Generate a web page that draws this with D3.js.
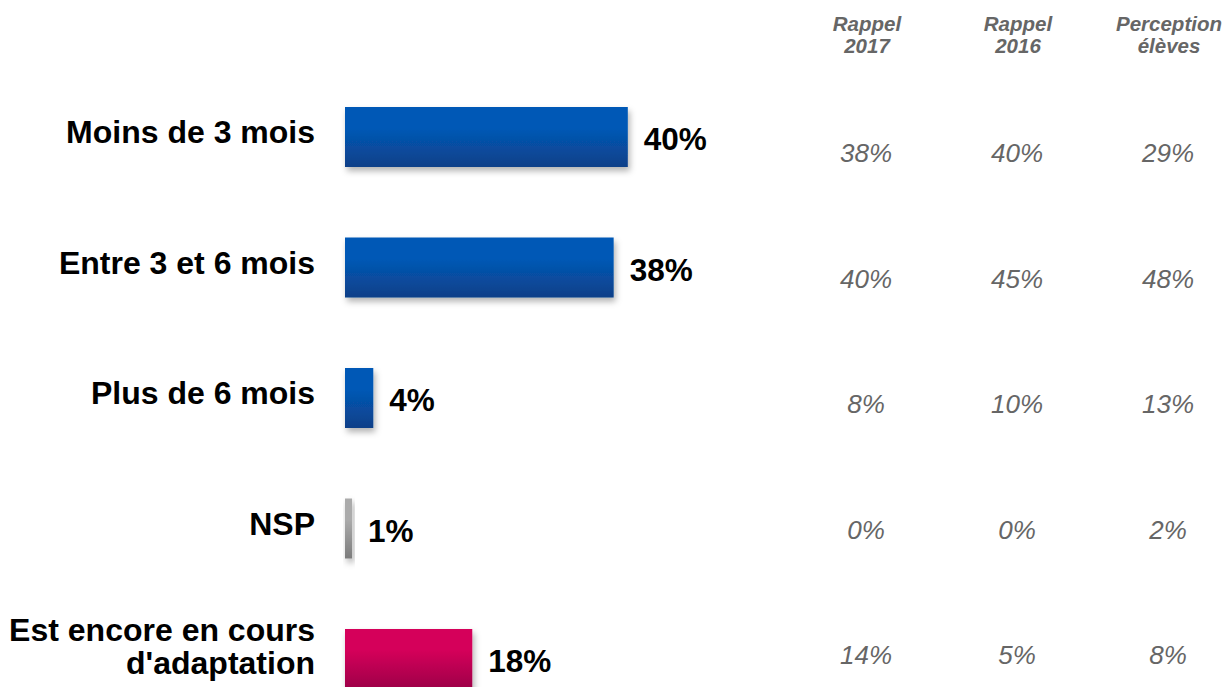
<!DOCTYPE html>
<html>
<head>
<meta charset="utf-8">
<script src="https://cdn.jsdelivr.net/npm/d3@7"></script>
<style>
  html, body { margin: 0; padding: 0; background: #fff; }
  svg { display: block; font-family: "Liberation Sans", Arial, sans-serif; }
</style>
</head>
<body>
<svg id="chart" width="1229" height="687"></svg>
<script>
// Délai d'adaptation : répartition principale + rappels des vagues précédentes
const categories = [
  "Moins de 3 mois",
  "Entre 3 et 6 mois",
  "Plus de 6 mois",
  "NSP",
  "Est encore en cours\nd'adaptation"
];
const values = [40, 38, 4, 1, 18];
const barGroup = ["main", "main", "main", "nsp", "ongoing"];

const columnHeaders = ["Rappel\n2017", "Rappel\n2016", "Perception\nélèves"];
const rappel2017 = [38, 40, 8, 0, 14];
const rappel2016 = [40, 45, 10, 0, 5];
const perceptionEleves = [29, 48, 13, 2, 8];

const svg = d3.select("#chart");
const defs = svg.append("defs");

// vertical gradients per bar group
const gradients = {
  main:    ["#0459b6", "#0a3f88"],
  nsp:     ["#ababab", "#7c7c7c"],
  ongoing: ["#d5005a", "#9d0048"]
};
Object.entries(gradients).forEach(([key, [top, bottom]]) => {
  const g = defs.append("linearGradient")
    .attr("id", "grad-" + key)
    .attr("x1", 0).attr("y1", 0).attr("x2", 0).attr("y2", 1);
  g.append("stop").attr("offset", "0%").attr("stop-color", top);
  g.append("stop").attr("offset", "35%").attr("stop-color", top);
  g.append("stop").attr("offset", "100%").attr("stop-color", bottom);
});

const shadow = defs.append("filter").attr("id", "barShadow")
  .attr("x", "-20%").attr("y", "-20%").attr("width", "160%").attr("height", "160%");
shadow.append("feDropShadow")
  .attr("dx", 2).attr("dy", 4).attr("stdDeviation", 3)
  .attr("flood-color", "#000").attr("flood-opacity", 0.3);

// scales
const x = d3.scaleLinear().domain([0, 100]).range([345, 1052]);
const y = d3.scalePoint().domain(categories).range([137, 659]);
const barH = 60;

const rows = categories.map((c, i) => ({
  cat: c, value: values[i], group: barGroup[i]
}));

// bars
svg.append("g").selectAll("rect")
  .data(rows)
  .join("rect")
  .attr("x", x(0))
  .attr("y", d => y(d.cat) - barH / 2)
  .attr("width", d => x(d.value) - x(0))
  .attr("height", barH)
  .attr("fill", d => "url(#grad-" + d.group + ")")
  .attr("filter", "url(#barShadow)");

// value labels
svg.append("g").selectAll("text")
  .data(rows)
  .join("text")
  .attr("x", d => x(d.value) + 16)
  .attr("y", d => y(d.cat) + 13)
  .attr("font-size", 31.5)
  .attr("font-weight", "bold")
  .attr("fill", "#000")
  .text(d => d.value + "%");

// category labels (right aligned, optional line break)
const catG = svg.append("g");
rows.forEach(d => {
  const lines = d.cat.split("\n");
  const t = catG.append("text")
    .attr("text-anchor", "end")
    .attr("font-size", 32)
    .attr("font-weight", "bold")
    .attr("fill", "#000");
  const cy = y(d.cat);
  if (lines.length === 1) {
    t.append("tspan").attr("x", 315).attr("y", cy + 6).text(lines[0]);
  } else {
    t.append("tspan").attr("x", 315).attr("y", cy - 18).text(lines[0]);
    t.append("tspan").attr("x", 315).attr("y", cy + 15).text(lines[1]);
  }
});

// comparison table
const colX = d3.scalePoint().domain(columnHeaders).range([866, 1168]);
const rowY = d3.scalePoint().domain(categories).range([162, 664]);
const tableSeries = [rappel2017, rappel2016, perceptionEleves];

const headG = svg.append("g");
columnHeaders.forEach(h => {
  const lines = h.split("\n");
  const t = headG.append("text")
    .attr("text-anchor", "middle")
    .attr("font-size", 20.5)
    .attr("font-weight", "bold")
    .attr("font-style", "italic")
    .attr("fill", "#666");
  lines.forEach((ln, k) => {
    t.append("tspan").attr("x", colX(h) + 1).attr("y", 31 + k * 22).text(ln);
  });
});

const cellG = svg.append("g");
tableSeries.forEach((series, j) => {
  cellG.append("g").selectAll("text")
    .data(series)
    .join("text")
    .attr("x", colX(columnHeaders[j]))
    .attr("y", (v, i) => rowY(categories[i]))
    .attr("text-anchor", "middle")
    .attr("font-size", 26)
    .attr("font-style", "italic")
    .attr("fill", "#666")
    .text(v => v + "%");
});
</script>
</body>
</html>
